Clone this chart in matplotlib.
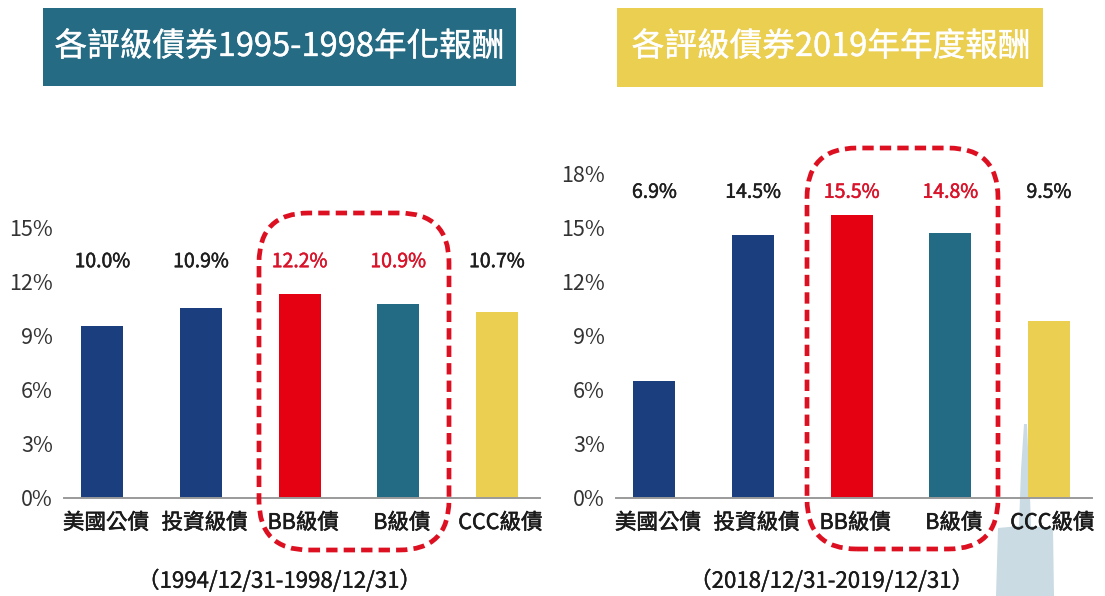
import matplotlib
matplotlib.use("Agg")
import matplotlib.pyplot as plt
import matplotlib.patheffects as pe
from matplotlib.patches import Rectangle, FancyBboxPatch, Polygon

plt.rcParams['font.family'] = ['Noto Sans CJK TC', 'DejaVu Sans']

# ---------------- data ----------------
categories = ["美國公債", "投資級債", "BB級債", "B級債", "CCC級債"]

left_title = "各評級債券1995-1998年化報酬"
left_period = "（1994/12/31-1998/12/31）"
left_values = [9.54, 10.52, 11.30, 10.74, 10.30]          # bar heights as drawn (%)
left_labels = ["10.0%", "10.9%", "12.2%", "10.9%", "10.7%"]
left_ticks = [0, 3, 6, 9, 12, 15]

right_title = "各評級債券2019年年度報酬"
right_period = "（2018/12/31-2019/12/31）"
right_values = [6.49, 14.57, 15.68, 14.68, 9.80]
right_labels = ["6.9%", "14.5%", "15.5%", "14.8%", "9.5%"]
right_ticks = [0, 3, 6, 9, 12, 15, 18]

# ---------------- style ----------------
NAVY = "#1a3e7e"
RED = "#e50012"
TEAL = "#236b85"
YELLOW = "#ebcf50"
bar_colors = [NAVY, NAVY, RED, TEAL, YELLOW]
label_colors = ["#1e1e1e", "#1e1e1e", "#d9132a", "#d9132a", "#1e1e1e"]
DASH_RED = "#dc1020"

W, H = 1105, 596
fig = plt.figure(figsize=(W / 100, H / 100), dpi=100)
fig.patch.set_facecolor("white")


def fx(px):
    return px / W


def fy(py):
    return 1 - py / H


def medium(color, lw=0.55):
    return [pe.withStroke(linewidth=lw, foreground=color)]


# decorative light-blue shape (behind everything)
shape_px = [(996, 596), (998, 528), (1019, 526), (1021, 470), (1024, 424),
            (1027, 424), (1030, 497), (1031, 526), (1053, 528), (1054, 596)]
fig.patches.append(Polygon([(fx(x), fy(y)) for x, y in shape_px], closed=True,
                           transform=fig.transFigure, facecolor="#cadbe3",
                           edgecolor="none", zorder=-5))

axes_top_px, axes_bot_px = 140.0, 497.7
px_per_pct = 18.03
ymax = (axes_bot_px - axes_top_px) / px_per_pct


def panel(left_px, values, labels, ticks, value_y):
    ax = fig.add_axes([fx(left_px), fy(axes_bot_px), 476 / W,
                       (axes_bot_px - axes_top_px) / H])
    ax.set_facecolor("none")
    x = list(range(len(categories)))
    ax.bar(x, values, width=0.426, color=bar_colors, zorder=2)
    ax.set_xlim(-0.39, len(categories) - 1 + 0.437)
    ax.set_ylim(0, ymax)
    for s in ["left", "right", "top"]:
        ax.spines[s].set_visible(False)
    ax.spines["bottom"].set_color("#9a9a9a")
    ax.spines["bottom"].set_linewidth(1.4)
    ax.set_yticks(ticks)
    ax.set_yticklabels([f"{t}%" for t in ticks], fontsize=15.5, color="#333333")
    ax.tick_params(axis="y", length=0, pad=8)
    ax.set_xticks([])
    for i, c in enumerate(categories):
        ax.text(i + 0.035, -0.0707, c, transform=ax.get_xaxis_transform(),
                ha="center", va="center", fontsize=15.5, color="#1a1a1a",
                path_effects=medium("#1a1a1a", 0.4))
    for i, lab in enumerate(labels):
        ax.text(i, value_y, lab, ha="center", va="center", fontsize=14,
                color=label_colors[i], clip_on=False,
                path_effects=medium(label_colors[i], 0.35))
    return ax


axL = panel(64, left_values, left_labels, left_ticks, 13.09)
axR = panel(616, right_values, right_labels, right_ticks, 16.94)

# title boxes
fig.patches.append(Rectangle((fx(43), fy(86)), fx(516 - 43), (86 - 8) / H,
                             transform=fig.transFigure, facecolor="#256b84",
                             edgecolor="none"))
fig.text(fx(279.5), fy(47), left_title, ha="center", va="center",
         fontsize=23.5, color="white", path_effects=medium("white", 0.25))
fig.patches.append(Rectangle((fx(617), fy(87)), fx(1043 - 617), (87 - 8) / H,
                             transform=fig.transFigure, facecolor="#ebcf51",
                             edgecolor="none"))
fig.text(fx(831), fy(47), right_title, ha="center", va="center",
         fontsize=23.5, color="white", path_effects=medium("white", 0.25))

# period subtitles
fig.text(fx(280), fy(581), left_period, ha="center", va="center",
         fontsize=16, color="#1a1a1a", path_effects=medium("#1a1a1a", 0.25))
fig.text(fx(832), fy(581), right_period, ha="center", va="center",
         fontsize=16, color="#1a1a1a", path_effects=medium("#1a1a1a", 0.25))

# dashed highlight boxes
for (x0, y0, x1, y1) in [(259, 213, 449, 550), (807, 148, 998, 549)]:
    fig.patches.append(FancyBboxPatch(
        (fx(x0), fy(y1)), fx(x1 - x0), (y1 - y0) / H,
        boxstyle="round,pad=0,rounding_size=0.045",
        mutation_aspect=W / H,
        transform=fig.transFigure, facecolor="none", edgecolor=DASH_RED,
        linewidth=3.4, linestyle=(0, (2.4, 1.3)), zorder=5))

fig.savefig("out.png", dpi=100, facecolor="white")
